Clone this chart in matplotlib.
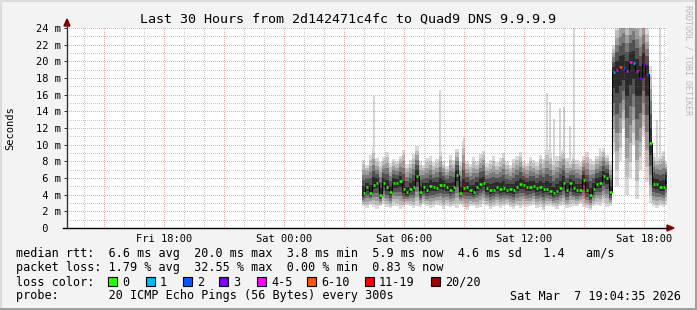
import numpy as np
import matplotlib
matplotlib.use("Agg")
import matplotlib.pyplot as plt
import matplotlib.transforms as mtransforms
from matplotlib.patches import Rectangle, Polygon
from matplotlib.lines import Line2D

W, H = 697, 310
MONO = "DejaVu Sans Mono"

# samples every 10 min, x = hours since Sat 00:00
t0 = 3.9
step = 1 / 6

median = [4.2, 4.9, 4.2, 5.2, 5.4, 4.0, 5.4, 4.9, 4.3, 5.4,
          5.4, 5.6, 4.7, 4.3, 4.7, 4.9, 6.2, 4.3, 4.9, 4.6,
          5.0, 4.9, 4.8, 5.2, 5.2, 4.9, 4.6, 4.9, 6.4, 4.2,
          4.8, 4.9, 4.6, 4.3, 4.9, 5.3, 5.4, 4.8, 4.6, 4.6,
          4.9, 4.7, 4.8, 4.6, 4.7, 4.6, 4.9, 5.3, 5.2, 4.9,
          4.9, 5.0, 4.8, 4.9, 4.7, 4.7, 4.5, 4.2, 4.5, 4.8,
          5.4, 4.6, 5.4, 4.8, 4.6, 4.6, 5.8, 4.6, 4.0, 4.7,
          5.3, 5.4, 6.2, 6.0, 4.3, 18.7, 19.0, 19.3, 19.2, 18.8,
          19.9, 19.8, 18.9, 18.0, 19.7, 18.5, 10.2, 5.3, 5.3, 4.9,
          4.9, 5.9]

# lowest / highest of the 20 pings (the smoke envelope)
ping_lo = [2.6, 2.4, 2.8, 2.5, 2.3, 2.6, 2.9, 2.5, 2.4, 2.7,
           2.6, 2.3, 2.5, 2.8, 2.6, 2.4, 2.7, 2.5, 2.9, 2.6,
           2.4, 2.5, 2.8, 2.6, 2.3, 2.7, 2.5, 2.6, 2.4, 2.8,
           2.5, 2.2, 2.6, 2.7, 2.4, 2.5, 2.9, 2.6, 2.3, 2.5,
           2.7, 2.4, 2.6, 2.8, 2.5, 2.3, 2.6, 2.4, 2.7, 2.5,
           2.6, 2.8, 2.4, 2.5, 2.2, 2.6, 2.7, 2.5, 2.3, 2.6,
           2.8, 2.4, 2.5, 2.7, 2.6, 2.9, 2.5, 2.4, 2.2, 2.6,
           2.8, 2.7, 3.0, 2.5, 2.6, 9.0, 5.0, 8.0, 12.0, 4.0,
           6.0, 10.0, 3.5, 7.0, 11.0, 5.5, 3.0, 2.6, 2.4, 2.7,
           2.5, 2.8]
ping_hi = [8.2, 7.6, 8.8, 9.6, 8.4, 7.9, 8.5, 9.1, 7.8, 8.3,
           8.0, 8.7, 9.4, 7.7, 8.2, 8.9, 9.8, 8.1, 7.6, 8.4,
           8.6, 7.9, 8.3, 9.2, 8.0, 7.5, 8.8, 8.2, 9.5, 7.9,
           10.4, 8.1, 7.7, 8.5, 8.0, 8.9, 9.3, 7.8, 8.2, 8.6,
           7.9, 8.4, 9.0, 8.1, 7.6, 8.3, 8.7, 9.1, 8.0, 7.8,
           8.5, 8.2, 7.9, 8.8, 8.3, 9.4, 9.0, 8.1, 8.6, 9.2,
           9.5, 8.4, 8.0, 8.9, 8.2, 7.9, 8.6, 9.1, 8.3, 8.0,
           8.7, 9.2, 9.6, 8.8, 8.1, 22.0, 24.5, 26.0, 27.0, 25.0,
           26.0, 27.0, 26.0, 25.0, 26.0, 24.0, 19.5, 9.0, 8.5, 8.8,
           9.2, 8.0]

# lost pings out of 20
lost = [0] * 75 + [1, 4, 6, 2, 4, 4, 1, 4, 3, 3, 2, 0, 0, 0, 0, 0, 1]

# single outlier pings above the smoke
spike_idx = [3, 23, 30, 55, 56, 57, 59, 60, 62, 63, 71, 88, 89]
spike_top = [15.8, 16.6, 10.8, 16.2, 15.1, 13.1, 14.4, 14.5, 12.2, 24.5, 9.6, 13.0, 24.5]

xtick_pos = [-9, -6, -3, 0, 3, 6, 9, 12, 15, 18]
xtick_labels = ["", "Fri 18:00", "", "Sat 00:00", "", "Sat 06:00", "", "Sat 12:00", "", "Sat 18:00"]
yticks = list(range(0, 25, 2))

loss_names = ["0", "1", "2", "3", "4-5", "6-10", "11-19", "20/20"]
loss_colors = ["#26ff00", "#00b8ff", "#0059ff", "#7e00ff", "#ff00ff", "#ff5500", "#ff0000", "#a00000"]

XMIN, XMAX = -10.85, 19.15
YMIN, YMAX = 0, 24


def loss_bucket(n):
    if n <= 3:
        return n
    if n <= 5:
        return 4
    if n <= 10:
        return 5
    if n <= 19:
        return 6
    return 7


def fx(px):
    return px / W


def fy(py):
    return 1 - py / H


def dotted_grid(ax, npx_w, npx_h):
    # rrdtool style 1-on/1-off pixel grid, drawn as an overlay image
    img = np.zeros((npx_h, npx_w, 4))
    minor = (0.45, 0.45, 0.45, 0.38)
    major = (1.0, 0.0, 0.0, 0.36)
    xs = np.arange(npx_w)
    ys = np.arange(npx_h)
    for kind, col in (("minor", minor), ("major", major)):
        for v in range(YMIN + 1, YMAX + 1):
            if (v % 2 == 0) != (kind == "major"):
                continue
            r = min(npx_h - 1, int(round((YMAX - v) * npx_h / (YMAX - YMIN))))
            img[r, xs[xs % 2 == 0]] = col
        for h in range(int(np.ceil(XMIN)), int(XMAX) + 1):
            if (h % 3 == 0) != (kind == "major"):
                continue
            c = int(round((h - XMIN) * npx_w / (XMAX - XMIN)))
            if 0 <= c < npx_w:
                img[ys[ys % 2 == 0], c] = col
    ax.imshow(img, extent=(XMIN, XMAX, YMIN, YMAX), aspect="auto",
              interpolation="nearest", zorder=2.5)


fig = plt.figure(figsize=(W / 100, H / 100), dpi=100, facecolor="#f3f3f3")
ax = fig.add_axes([fx(67), fy(228), 600 / W, 200 / H])
ax.set_facecolor("white")

med = np.array(median)
lo = np.array(ping_lo)
hi = np.array(ping_hi)
t = t0 + step * np.arange(len(med))

# outliers first, smoke goes over them
si = np.array(spike_idx)
ax.bar(t[si] + 0.2 * step, np.array(spike_top) - hi[si], bottom=hi[si], width=0.6 * step,
       align="edge", color="#d6d6d6", linewidth=0, zorder=1)

# smoke: outer pings light, inner ones darker
grays = ["#dadada", "#bebebe", "#9e9e9e", "#7a7a7a", "#525252", "#2a2a2a"]
fracs = [1.0, 0.86, 0.7, 0.54, 0.38, 0.2]
for f, g in zip(fracs, grays):
    top = med + f * (hi - med)
    bot = med - f * (med - lo)
    ax.bar(t, top - bot, bottom=bot, width=step, align="edge", color=g,
           linewidth=0, antialiased=False, zorder=1.2)

dotted_grid(ax, 600, 200)
ax.set_xlim(XMIN, XMAX)
ax.set_ylim(YMIN, YMAX)

ax.set_xticks(xtick_pos)
ax.set_xticklabels(xtick_labels, fontfamily=MONO, fontsize=7.5)
ax.set_yticks(yticks)
ax.set_yticklabels([])
ax.tick_params(axis="x", which="both", length=0, pad=4.5)
ax.tick_params(axis="y", which="major", length=2.5, width=0.72, color="#333333", direction="out")
for s in ax.spines.values():
    s.set_visible(False)

# median line, colored by loss
edges = np.append(t, t[-1] + step)
ax.stairs(med, edges, baseline=None, color="black", lw=0.72, zorder=3)
cols = [loss_colors[loss_bucket(n)] for n in lost]
ax.hlines(med, t + 0.15 * step, t + 0.85 * step, colors=cols, lw=1.8, zorder=4)

# y labels
ylab_tr = mtransforms.blended_transform_factory(fig.transFigure, ax.transData)
for v in yticks:
    lab = f"{v:2d} m" if v else " 0"
    fig.text(fx(35.5), v, lab, transform=ylab_tr, fontfamily=MONO, fontsize=7.5,
             ha="left", va="center_baseline", color="black")

# axes with arrows
axc = "#333333"
fig.add_artist(Line2D([fx(67), fx(67)], [fy(228), fy(24)], color=axc, lw=1.0))
fig.add_artist(Line2D([fx(63), fx(668)], [fy(228), fy(228)], color="black", lw=1.0))
fig.add_artist(Polygon([(fx(67), fy(19)), (fx(64), fy(26)), (fx(70), fy(26))],
                       closed=True, transform=fig.transFigure, color="#800000"))
fig.add_artist(Polygon([(fx(674), fy(228)), (fx(667), fy(225)), (fx(667), fy(231))],
                       closed=True, transform=fig.transFigure, color="#800000"))

fig.text(fx(348.5), fy(19), "Last 30 Hours from 2d142471c4fc to Quad9 DNS 9.9.9.9",
         fontfamily=MONO, fontsize=9.6, ha="center", va="center")
fig.text(fx(10), fy(128), "Seconds", fontfamily=MONO, fontsize=7.5, rotation=90,
         ha="center", va="center")
fig.text(fx(688), fy(5), "RRDTOOL / TOBI OETIKER", fontfamily=MONO, fontsize=6.0,
         rotation=270, ha="center", va="top", color="#b8b8b8")

# legend block
lfs = 8.45
lines = [
    (254, "median rtt:  6.6 ms avg  20.0 ms max  3.8 ms min  5.9 ms now  4.6 ms sd   1.4   am/s"),
    (268, "packet loss: 1.79 % avg  32.55 % max  0.00 % min  0.83 % now"),
    (282, "loss color:"),
    (296, "probe:       20 ICMP Echo Pings (56 Bytes) every 300s"),
]
for y, s in lines:
    fig.text(fx(15.5), fy(y), s, fontfamily=MONO, fontsize=lfs, ha="left", va="center")
fig.text(fx(681), fy(296), "Sat Mar  7 19:04:35 2026", fontfamily=MONO, fontsize=lfs,
         ha="right", va="center")

box_x = [108, 146, 183, 219, 257, 307, 365, 431]
for bx, name, c in zip(box_x, loss_names, loss_colors):
    fig.add_artist(Rectangle((fx(bx), fy(286)), 9 / W, 9 / H, transform=fig.transFigure,
                             facecolor=c, edgecolor="black", lw=0.8))
    fig.text(fx(bx + 14), fy(282), name, fontfamily=MONO, fontsize=lfs, ha="left", va="center")

# 3d-ish frame
fig.add_artist(Line2D([0, 1], [fy(0.5), fy(0.5)], color="#dcdcdc", lw=1.5))
fig.add_artist(Line2D([fx(0.5), fx(0.5)], [0, 1], color="#dcdcdc", lw=1.5))
fig.add_artist(Line2D([0, 1], [fy(308.5), fy(308.5)], color="#a0a0a0", lw=2.2))
fig.add_artist(Line2D([fx(695.5), fx(695.5)], [0, 1], color="#a0a0a0", lw=2.2))

fig.savefig("out.png", dpi=100, facecolor=fig.get_facecolor())
plt.close(fig)
